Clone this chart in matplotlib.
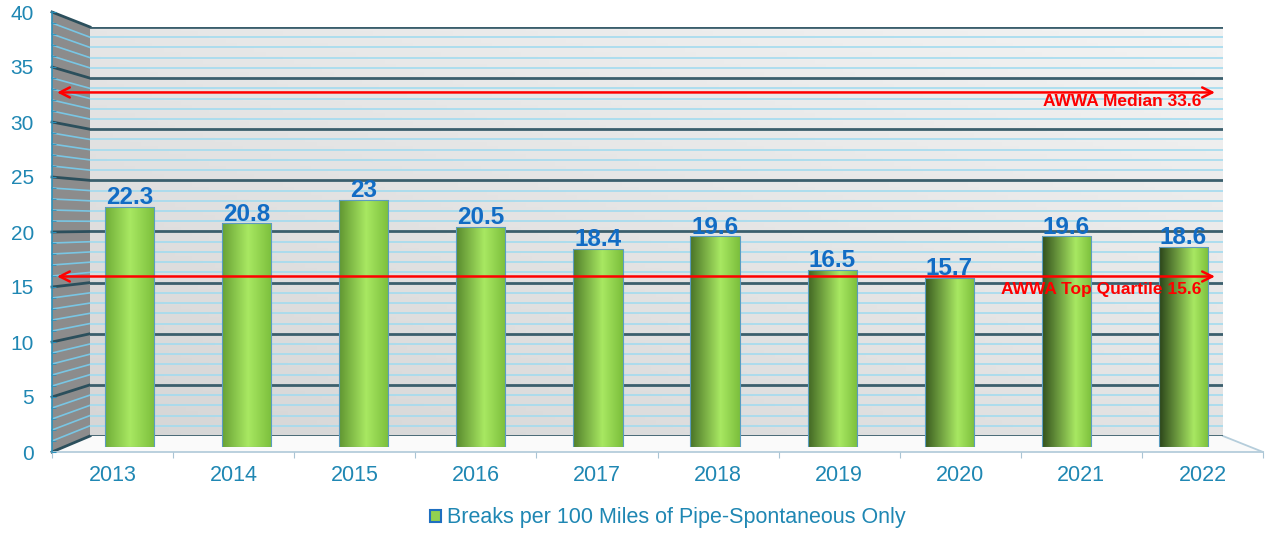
import numpy as np
import matplotlib
matplotlib.use('Agg')
import matplotlib.pyplot as plt
from matplotlib.patches import Polygon, Patch, Ellipse
from matplotlib.colors import LinearSegmentedColormap

# data
years = ['2013', '2014', '2015', '2016', '2017', '2018', '2019', '2020', '2021', '2022']
breaks = [22.3, 20.8, 23, 20.5, 18.4, 19.6, 16.5, 15.7, 19.6, 18.6]
median_val = 33.6
quartile_val = 15.6
median_label = 'AWWA Median 33.6'
quartile_label = 'AWWA Top Quartile 15.6'
legend_label = 'Breaks per 100 Miles of Pipe-Spontaneous Only'

plt.rcParams['font.family'] = ['Liberation Sans', 'DejaVu Sans']
teal = '#1f87b3'
blue = '#126cc4'
red = '#ff0000'

W, H = 1269, 533
fig = plt.figure(figsize=(W/100, H/100), dpi=100)

def box(x0, y0, x1, y1):
    # pixel box, origin top-left -> figure fraction rect
    return [x0/W, 1-y1/H, (x1-x0)/W, (y1-y0)/H]

# pseudo-3d geometry (pixels)
fx0, fx1, fy0, fy40 = 52, 1263, 452, 12     # front plane
bx0, bx1, by0, by40 = 90, 1223, 436, 27     # back wall

# --- walls and floor (decoration) ---
bg = fig.add_axes([0, 0, 1, 1], zorder=0)
bg.set_xlim(0, W); bg.set_ylim(H, 0); bg.axis('off')
bg.add_patch(Polygon([(fx0, fy40), (bx0, by40), (bx0, by0), (fx0, fy0)],
                     closed=True, fc='#8c8c8c', ec='none'))
bg.add_patch(Polygon([(fx0, fy0), (bx0, by0), (bx1, by0), (fx1, fy0)],
                     closed=True, fc='#fafafa', ec='none'))
for v in range(41):
    yf = fy0 + (fy40-fy0)*v/40
    yb = by0 + (by40-by0)*v/40
    if v % 5 == 0:
        bg.plot([fx0, bx0], [yf, yb], color='#2b4f5c', lw=2)
    else:
        bg.plot([fx0, bx0], [yf, yb], color='#79c6e4', lw=1.2)
bg.plot([fx0, fx1], [fy0, fy0], color='#b5cddb', lw=1.3)
bg.plot([bx1, fx1], [by0, fy0], color='#b5cddb', lw=1.3)

# --- back wall ---
back = fig.add_axes(box(bx0, by40, bx1, by0), zorder=1)
back.set_xlim(0, 1); back.set_ylim(0, 40)
gx, gy = np.meshgrid(np.linspace(0, 1, 200), np.linspace(0, 1, 100))
grad = 0.45*gx + 0.55*gy
wall_cmap = LinearSegmentedColormap.from_list('wall', ['#d6d6d6', '#f3f3f3'])
back.imshow(grad, extent=[0, 1, 0, 40], origin='lower', aspect='auto', cmap=wall_cmap)
for v in range(41):
    if v % 5 == 0:
        back.axhline(v, color='#3b5f6d', lw=2)
    else:
        back.axhline(v, color='#a3dbef', lw=1.2)
back.axis('off')

# --- bars (mid depth plane) ---
ax = fig.add_axes(box(71, 17, 1242, 447), zorder=2)
ax.set_facecolor('none')
ax.set_xlim(-0.5, 9.5); ax.set_ylim(0, 40)
ax.axis('off')
x = np.arange(len(years))
bw = 0.42
bars = ax.bar(x, breaks, width=bw, color='none', edgecolor='#5b9cc0', lw=0.8, zorder=3)
for i, (b, v) in enumerate(zip(bars, breaks)):
    t = i/(len(years)-1)
    left = np.array([0.44, 0.68, 0.22])*(1-t) + np.array([0.17, 0.27, 0.10])*t
    p = 0.5 + 0.2*t
    cmap = LinearSegmentedColormap.from_list(
        f'cyl{i}', [(0, left), (p, '#a8e862'), (1, '#7cbf3c')])
    g = np.linspace(0, 1, 100).reshape(1, -1)
    im = ax.imshow(g, extent=[i-bw/2, i+bw/2, -0.3, v], aspect='auto', cmap=cmap, zorder=2)
    im.set_clip_path(b)
    el = Ellipse((i, 0), bw, 0.55, fc='none', ec='none')
    ax.add_patch(el)
    im2 = ax.imshow(g, extent=[i-bw/2, i+bw/2, -0.3, v], aspect='auto', cmap=cmap, zorder=2)
    im2.set_clip_path(el)
    ax.annotate(f'{v:g}', (i, v), xytext=(0, 2), textcoords='offset points',
                ha='center', va='baseline', fontsize=17.5, fontweight='bold', color=blue)

# --- front axis: ticks and labels ---
front = fig.add_axes(box(fx0, fy40, fx1, fy0), zorder=3)
front.set_facecolor('none')
front.set_xlim(-0.5, 9.5); front.set_ylim(0, 40)
for s in ['top', 'right', 'bottom']:
    front.spines[s].set_visible(False)
front.spines['left'].set_color('#2a8fb8')
front.spines['left'].set_linewidth(1.2)
front.set_yticks(np.arange(0, 41, 5))
front.set_yticks(np.arange(0, 41, 1), minor=True)
front.tick_params(axis='y', which='both', direction='in', color='#2a8fb8', length=3,
                  labelsize=15, labelcolor=teal, pad=13)
front.set_xticks(np.arange(-0.5, 10, 1))
front.set_xticklabels([])
front.set_xticks(x, minor=True)
front.set_xticklabels(years, minor=True)
front.tick_params(axis='x', which='major', direction='out', length=4, color='#a9c4d4')
front.tick_params(axis='x', which='minor', length=0, labelsize=15.5, labelcolor=teal, pad=9.5)

# --- reference arrows ---
ref = fig.add_axes(box(bx0, by40, bx1, by0), zorder=4)
ref.set_facecolor('none')
ref.set_xlim(0, 1); ref.set_ylim(0, 40)
ref.axis('off')
x_left = (57-bx0)/(bx1-bx0)
x_right = (1215-bx0)/(bx1-bx0)
for val in [median_val, quartile_val]:
    ref.annotate('', xy=(x_left, val), xytext=(x_right, val),
                 arrowprops=dict(arrowstyle='<->', color=red, lw=1.8,
                                 mutation_scale=18, shrinkA=0, shrinkB=0),
                 annotation_clip=False)
text_x = (1201-bx0)/(bx1-bx0)
ref.annotate(median_label, (text_x, median_val), xytext=(0, -1), textcoords='offset points',
             ha='right', va='top', fontsize=12.5, fontweight='bold', color=red)
ref.annotate(quartile_label, (text_x, quartile_val), xytext=(0, -4), textcoords='offset points',
             ha='right', va='top', fontsize=12.5, fontweight='bold', color=red)

# --- legend ---
fig.legend(handles=[Patch(facecolor='#92d050', edgecolor='#1f6fc0', lw=1.5)],
           labels=[legend_label], loc='center', bbox_to_anchor=(668/W, 1-518/H),
           frameon=False, fontsize=15.5, handlelength=0.5, handleheight=0.5,
           handletextpad=0.3, labelcolor=teal)

fig.savefig('out.png', dpi=100)
